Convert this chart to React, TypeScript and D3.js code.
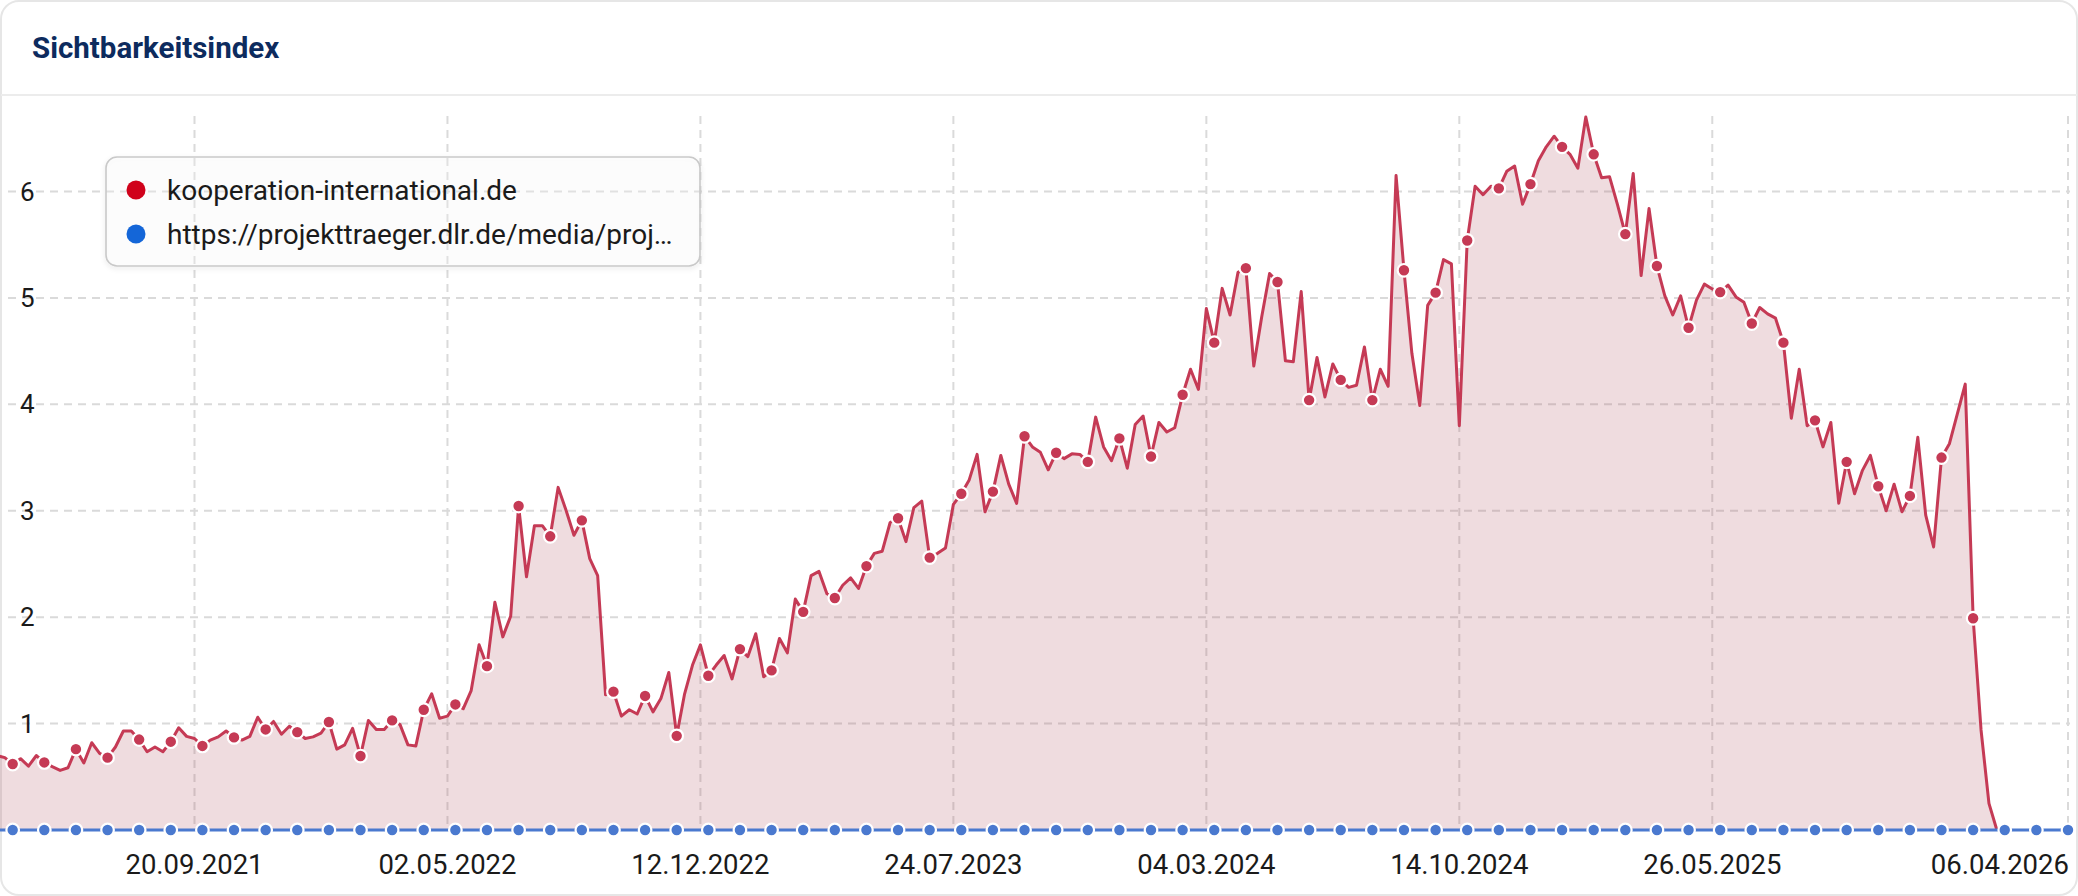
import React from "react";
import * as d3 from "d3";

// ---- data ----
const SERIES_START = "2021-03-29"; // weekly series, Mondays
const seriesNames = [
  "kooperation-international.de",
  "https://projekttraeger.dlr.de/media/proj…",
];
// kooperation-international.de, weekly visibility index
const redValues = [
  0.70, 0.68, 0.62, 0.67, 0.60, 0.70, 0.635, 0.595, 0.56, 0.585,
  0.76, 0.63, 0.82, 0.72, 0.68, 0.78, 0.93, 0.93, 0.85, 0.735,
  0.78, 0.735, 0.83, 0.96, 0.88, 0.86, 0.79, 0.845, 0.875, 0.93,
  0.87, 0.845, 0.88, 1.06, 0.945, 1.02, 0.90, 0.975, 0.92, 0.86,
  0.875, 0.91, 1.015, 0.76, 0.80, 0.955, 0.695, 1.03, 0.945, 0.945,
  1.03, 0.99, 0.80, 0.79, 1.13, 1.28, 1.05, 1.07, 1.18, 1.14,
  1.31, 1.74, 1.54, 2.14, 1.815, 2.01, 3.045, 2.38, 2.86, 2.86,
  2.76, 3.22, 3.005, 2.77, 2.91, 2.55, 2.39, 1.27, 1.30, 1.07,
  1.13, 1.09, 1.26, 1.11, 1.235, 1.48, 0.885, 1.28, 1.55, 1.74,
  1.45, 1.55, 1.64, 1.42, 1.70, 1.63, 1.845, 1.44, 1.50, 1.80,
  1.665, 2.17, 2.05, 2.39, 2.43, 2.22, 2.18, 2.30, 2.37, 2.27,
  2.48, 2.60, 2.62, 2.89, 2.93, 2.71, 3.03, 3.09, 2.56, 2.60,
  2.65, 3.06, 3.16, 3.29, 3.53, 2.99, 3.18, 3.52, 3.25, 3.07,
  3.70, 3.60, 3.55, 3.385, 3.545, 3.49, 3.535, 3.53, 3.46, 3.88,
  3.60, 3.47, 3.68, 3.40, 3.81, 3.89, 3.51, 3.83, 3.74, 3.78,
  4.09, 4.33, 4.14, 4.90, 4.58, 5.09, 4.84, 5.24, 5.28, 4.36,
  4.82, 5.23, 5.15, 4.41, 4.40, 5.06, 4.04, 4.44, 4.07, 4.38,
  4.23, 4.16, 4.18, 4.54, 4.04, 4.33, 4.17, 6.15, 5.26, 4.48,
  3.99, 4.93, 5.05, 5.36, 5.32, 3.80, 5.54, 6.05, 5.97, 6.05,
  6.03, 6.19, 6.24, 5.88, 6.07, 6.29, 6.42, 6.52, 6.42, 6.35,
  6.22, 6.70, 6.35, 6.13, 6.14, 5.88, 5.60, 6.17, 5.21, 5.84,
  5.30, 5.02, 4.84, 5.02, 4.72, 4.98, 5.13, 5.085, 5.055, 5.12,
  5.01, 4.96, 4.76, 4.91, 4.85, 4.81, 4.58, 3.87, 4.33, 3.80,
  3.85, 3.60, 3.83, 3.07, 3.46, 3.16, 3.38, 3.52, 3.23, 3.00,
  3.25, 2.99, 3.14, 3.69, 2.96, 2.66, 3.50, 3.63, 3.91, 4.19,
  1.99, 0.94, 0.25, 0,
];
// projekttraeger.dlr.de URL, weekly visibility index
const blueValues = [
  0, 0, 0, 0, 0, 0, 0, 0, 0, 0, 0, 0, 0, 0, 0, 0, 0, 0, 0, 0,
  0, 0, 0, 0, 0, 0, 0, 0, 0, 0, 0, 0, 0, 0, 0, 0, 0, 0, 0, 0,
  0, 0, 0, 0, 0, 0, 0, 0, 0, 0, 0, 0, 0, 0, 0, 0, 0, 0, 0, 0,
  0, 0, 0, 0, 0, 0, 0, 0, 0, 0, 0, 0, 0, 0, 0, 0, 0, 0, 0, 0,
  0, 0, 0, 0, 0, 0, 0, 0, 0, 0, 0, 0, 0, 0, 0, 0, 0, 0, 0, 0,
  0, 0, 0, 0, 0, 0, 0, 0, 0, 0, 0, 0, 0, 0, 0, 0, 0, 0, 0, 0,
  0, 0, 0, 0, 0, 0, 0, 0, 0, 0, 0, 0, 0, 0, 0, 0, 0, 0, 0, 0,
  0, 0, 0, 0, 0, 0, 0, 0, 0, 0, 0, 0, 0, 0, 0, 0, 0, 0, 0, 0,
  0, 0, 0, 0, 0, 0, 0, 0, 0, 0, 0, 0, 0, 0, 0, 0, 0, 0, 0, 0,
  0, 0, 0, 0, 0, 0, 0, 0, 0, 0, 0, 0, 0, 0, 0, 0, 0, 0, 0, 0,
  0, 0, 0, 0, 0, 0, 0, 0, 0, 0, 0, 0, 0, 0, 0, 0, 0, 0, 0, 0,
  0, 0, 0, 0, 0, 0, 0, 0, 0, 0, 0, 0, 0, 0, 0, 0, 0, 0, 0, 0,
  0, 0, 0, 0, 0, 0, 0, 0, 0, 0, 0, 0, 0, 0, 0, 0, 0, 0, 0, 0,
  0, 0, 0,
];
const tickDates = [
  "2021-09-20", "2022-05-02", "2022-12-12", "2023-07-24",
  "2024-03-04", "2024-10-14", "2025-05-26", "2026-04-06",
];
const yTicks = [1, 2, 3, 4, 5, 6];

// ---- styles ----
const RED = "#c53a55";
const BLUE = "#4a79cf";
const FONT = "Roboto, 'Noto Sans', sans-serif";

export default function App() {
  const W = 2078;
  const H = 896;
  const parse = d3.utcParse("%Y-%m-%d");
  const fmt = d3.utcFormat("%d.%m.%Y");
  const start = parse(SERIES_START) as Date;
  const dates = blueValues.map((_, i) => d3.utcDay.offset(start, 7 * i));
  const ticks = tickDates.map((t) => parse(t) as Date);

  const plotTop = 116;
  const plotBottom = 830;
  const x = d3
    .scaleUtc()
    .domain([ticks[0], ticks[ticks.length - 1]])
    .range([194.5, 2068]);
  const y = d3.scaleLinear().domain([0, 6.71]).range([plotBottom, plotTop]);

  const N = blueValues.length;
  const isMarker = (i: number) => (N - 1 - i) % 4 === 0;

  const redPts = redValues.map((v, i) => [x(dates[i]), y(v)] as [number, number]);
  const bluePts = blueValues.map((v, i) => [x(dates[i]), y(v)] as [number, number]);

  const line = d3.line<[number, number]>().x((d) => d[0]).y((d) => d[1]);
  const area = d3
    .area<[number, number]>()
    .x((d) => d[0])
    .y0(y(0))
    .y1((d) => d[1]);

  const gridStyle = { stroke: "#dadada", strokeWidth: 2, strokeDasharray: "8,6" };

  return (
    <svg
      width={W}
      height={H}
      viewBox={`0 0 ${W} ${H}`}
      style={{ position: "absolute", left: 0, top: 0, fontFamily: FONT }}
    >
      <defs>
        <clipPath id="plotClip">
          <rect x={0} y={97} width={W} height={H - 97} />
        </clipPath>
        <filter id="legendShadow" x="-10%" y="-30%" width="120%" height="160%">
          <feDropShadow dx="0" dy="2" stdDeviation="2.5" floodColor="#000" floodOpacity="0.12" />
        </filter>
      </defs>

      {/* card */}
      <rect x={1} y={1} width={W - 2} height={H - 2} rx={18} ry={18} fill="#fff" stroke="#e6e6e6" strokeWidth={2} />
      <text x={32} y={58} fontSize={29.5} fontWeight={700} fill="#0d2b5e">
        Sichtbarkeitsindex
      </text>
      <line x1={1} x2={W - 1} y1={95} y2={95} stroke="#ececec" strokeWidth={2} />

      {/* grid */}
      {yTicks.map((t) => (
        <line key={"h" + t} x1={8} x2={2070} y1={y(t)} y2={y(t)} style={gridStyle} />
      ))}
      {ticks.map((t, i) => (
        <line key={"v" + i} x1={x(t)} x2={x(t)} y1={plotTop} y2={plotBottom} style={gridStyle} />
      ))}

      {/* y labels */}
      {yTicks.map((t) => (
        <text key={"yl" + t} x={20} y={y(t)} dy="0.35em" fontSize={26} fill="#1a1a1a">
          {t}
        </text>
      ))}

      {/* series */}
      <g clipPath="url(#plotClip)">
        <path d={area(redPts) || ""} fill="rgba(175,80,95,0.2)" />
        <path d={line(redPts) || ""} fill="none" stroke={RED} strokeWidth={3} strokeLinejoin="round" />
        {redPts.map((p, i) =>
          isMarker(i) ? (
            <circle key={"rc" + i} cx={p[0]} cy={p[1]} r={6.3} fill={RED} stroke="#fff" strokeWidth={2.2} />
          ) : null
        )}
        <path d={line(bluePts) || ""} fill="none" stroke={BLUE} strokeWidth={3} />
        {bluePts.map((p, i) =>
          isMarker(i) ? (
            <circle key={"bc" + i} cx={p[0]} cy={p[1]} r={6.3} fill={BLUE} stroke="#fff" strokeWidth={2.2} />
          ) : null
        )}
      </g>

      {/* x labels */}
      {ticks.map((t, i) => {
        const last = i === ticks.length - 1;
        return (
          <text
            key={"xl" + i}
            x={last ? 2069 : x(t)}
            y={874}
            fontSize={27.5}
            textAnchor={last ? "end" : "middle"}
            fill="#1a1a1a"
          >
            {fmt(t)}
          </text>
        );
      })}

      {/* legend */}
      <g>
        <rect
          x={106}
          y={157}
          width={594}
          height={109}
          rx={11}
          ry={11}
          fill="rgba(255,255,255,0.25)"
          stroke="#c9c9c9"
          strokeWidth={1.6}
          filter="url(#legendShadow)"
        />
        {seriesNames.map((name, i) => (
          <g key={"lg" + i} transform={`translate(0, ${190 + i * 44})`}>
            <circle cx={136} cy={0} r={9.5} fill={i === 0 ? "#d0021b" : "#1466d8"} />
            <text x={167} y={0} dy="0.36em" fontSize={28} fill="#1a1a1a">
              {name}
            </text>
          </g>
        ))}
      </g>
    </svg>
  );
}
